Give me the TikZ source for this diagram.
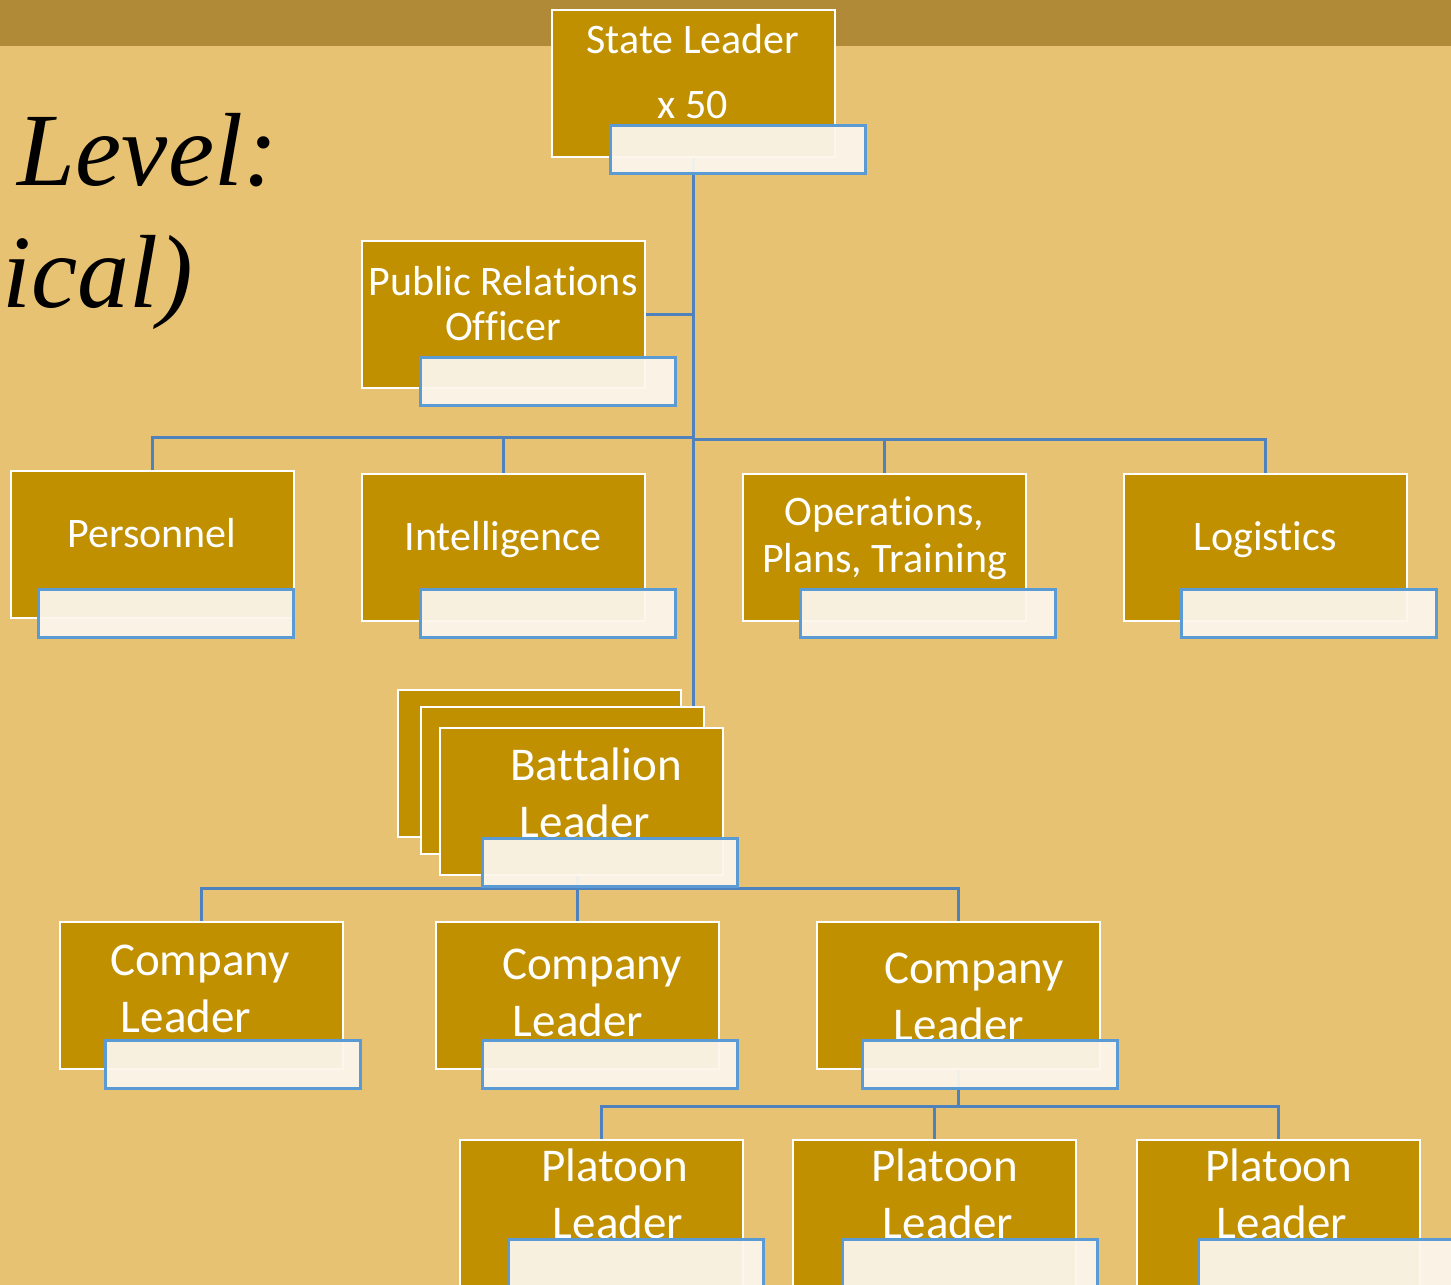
\documentclass[tikz,border=0pt]{standalone}
\usepackage{fontspec}
\setmainfont{Carlito}[Ligatures=NoCommon]
\newfontfamily\titlefont{Liberation Serif}
\usepackage{tikz}
\usetikzlibrary{positioning}
\definecolor{parchment}{HTML}{E8C273}
\definecolor{banner}{HTML}{B08A36}
\definecolor{gold}{HTML}{C09000}
\definecolor{linkblue}{HTML}{4F81BD}
\definecolor{barblue}{HTML}{5B9BD5}
\definecolor{barfill}{HTML}{FCF6EC}
\pgfdeclarelayer{paper}
\pgfdeclarelayer{links}
\pgfsetlayers{paper,links,main}
\tikzstyle{unit} = [rectangle, minimum width=283pt, minimum height=147pt, inner sep=0pt, draw=white, line width=2pt, fill=gold]
\tikzstyle{namebar} = [rectangle, anchor=north west, minimum width=255pt, minimum height=48pt, inner sep=0pt, draw=barblue, line width=2.5pt, fill=barfill, fill opacity=0.94]
\tikzstyle{toptext} = [anchor=base, inner sep=0pt, text=white, font=\fontsize{42}{50}\selectfont]
\tikzstyle{lowtext} = [anchor=base, inner sep=0pt, text=white, font=\fontsize{47}{56}\selectfont]
\tikzstyle{title} = [inner sep=0pt, text=black, font=\titlefont\itshape\fontsize{104}{110}\selectfont]
\tikzstyle{link} = [draw=linkblue, line width=3pt]

\begin{document}
\begin{tikzpicture}[x=1pt, y=-1pt]
		\useasboundingbox (0,0) rectangle (1451,1285);
		\clip (0,0) rectangle (1451,1285);
		\begin{pgfonlayer}{paper}
			\fill[parchment] (0,0) rectangle (1451,1285);
			\fill[banner] (0,0) rectangle (1451,46);
		\end{pgfonlayer}

		\node (title_1) [title, anchor=base east] at (278,185) {Level:};
		\node (title_2) [title, anchor=base west] at (2,307) {ical)};

		% state and staff
		\node (state) [unit] at (693.5,83.5) {};
		\node (state_t1) [toptext] at (693,53) {State Leader};
		\node (state_t2) [toptext] at (693,118) {x 50};
		\node (state_bar) [namebar] at (609,124) {};

		\node (pr) [unit] at (503.5,314.5) {};
		\node (pr_t1) [toptext] at (503,295) {Public Relations};
		\node (pr_t2) [toptext] at (503,340) {Officer};
		\node (pr_bar) [namebar] at (419,356) {};

		\node (pers) [unit] at (152.5,544.5) {};
		\node (pers_t) [toptext] at (152,547) {Personnel};
		\node (pers_bar) [namebar] at (37,588) {};

		\node (intel) [unit] at (503.5,547.5) {};
		\node (intel_t) [toptext] at (503,550) {Intelligence};
		\node (intel_bar) [namebar] at (419,588) {};

		\node (ops) [unit] at (884,547.5) {};
		\node (ops_t1) [toptext] at (884.5,525) {Operations,};
		\node (ops_t2) [toptext] at (884.5,572) {Plans, Training};
		\node (ops_bar) [namebar] at (799,588) {};

		\node (log) [unit] at (1265,547.5) {};
		\node (log_t) [toptext] at (1265,550) {Logistics};
		\node (log_bar) [namebar] at (1180,588) {};

		% battalion
		\node (bat_1) [unit] at (539,763) {};
		\node (bat_2) [unit] at (562.5,780) {};
		\node (bat_3) [unit] at (581.5,801.5) {};
		\node (bat_t1) [lowtext] at (596,780) {Battalion};
		\node (bat_t2) [lowtext] at (585,837) {Leader};
		\node (bat_bar) [namebar] at (481,837) {};

		% companies
		\node (co_1) [unit] at (201.5,995.5) {};
		\node (co_1_t1) [lowtext] at (200,975) {Company};
		\node (co_1_t2) [lowtext] at (186,1032) {Leader};
		\node (co_1_bar) [namebar] at (104,1039) {};

		\node (co_2) [unit] at (577.5,995.5) {};
		\node (co_2_t1) [lowtext] at (592,979) {Company};
		\node (co_2_t2) [lowtext] at (578,1036) {Leader};
		\node (co_2_bar) [namebar] at (481,1039) {};

		\node (co_3) [unit] at (958.5,995.5) {};
		\node (co_3_t1) [lowtext] at (974,983) {Company};
		\node (co_3_t2) [lowtext] at (959,1040) {Leader};
		\node (co_3_bar) [namebar] at (861,1039) {};

		% platoons
		\node (pl_1) [unit] at (601.5,1213.5) {};
		\node (pl_1_t1) [lowtext] at (614.5,1181) {Platoon};
		\node (pl_1_t2) [lowtext] at (618,1238) {Leader};
		\node (pl_1_bar) [namebar] at (507,1238) {};

		\node (pl_2) [unit] at (934.5,1213.5) {};
		\node (pl_2_t1) [lowtext] at (945,1181) {Platoon};
		\node (pl_2_t2) [lowtext] at (948,1238) {Leader};
		\node (pl_2_bar) [namebar] at (841,1238) {};

		\node (pl_3) [unit] at (1278.5,1213.5) {};
		\node (pl_3_t1) [lowtext] at (1279,1181) {Platoon};
		\node (pl_3_t2) [lowtext] at (1282,1238) {Leader};
		\node (pl_3_bar) [namebar] at (1197,1238) {};

		% connectors, behind the boxes
		\coordinate (staff_bus) at (693,437);
		\coordinate (staff_bus_r) at (693,439);
		\coordinate (co_bus) at (577.5,888);
		\coordinate (pl_bus) at (958.5,1106);
		\begin{pgfonlayer}{links}
			\draw[link] (state.south) -- (state.south |- bat_2.north);
			\draw[link] (pr.east) -- (pr.east -| state.south);
			\draw[link] (pers.north) |- (staff_bus);
			\draw[link] (intel.north) |- (staff_bus);
			\draw[link] (ops.north) |- (staff_bus_r);
			\draw[link] (log.north) |- (staff_bus_r);
			\draw[link] (co_2.north) -- (co_2.north |- bat_3.south);
			\draw[link] (co_1.north) |- (co_bus);
			\draw[link] (co_3.north) |- (co_bus);
			\draw[link] (co_3.south) -- (pl_bus);
			\draw[link] (pl_1.north) |- (pl_bus);
			\draw[link] (pl_2.north) |- (pl_bus);
			\draw[link] (pl_3.north) |- (pl_bus);
		\end{pgfonlayer}
	\end{tikzpicture}
\end{document}
